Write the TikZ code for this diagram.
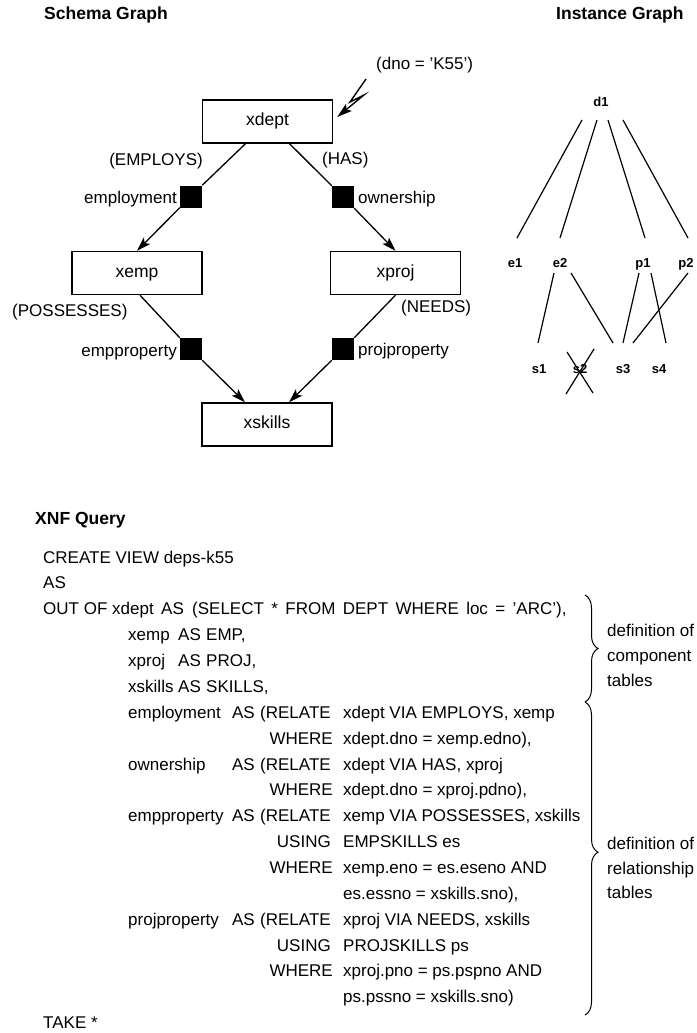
\documentclass[tikz,border=0pt]{standalone}
\usepackage{fontspec}
\setmainfont{Liberation Sans}
\usetikzlibrary{arrows.meta,decorations.pathreplacing,calc}
\begin{document}
\begin{tikzpicture}[x=1pt,y=-1pt,
  txt/.style={inner sep=0, font=\fontsize{17}{20}\selectfont},
  lbl/.style={txt, anchor=base west},
  lble/.style={txt, anchor=base east},
  ttl/.style={inner sep=0, anchor=base west, font=\fontsize{17.5}{20}\selectfont\bfseries},
  tbox/.style={draw, line width=1.4pt, minimum width=130pt, minimum height=43pt, inner sep=0, text height=12pt, text depth=3.5pt, font=\fontsize{17.5}{20}\selectfont},
  sq/.style={fill=black, minimum size=22pt, inner sep=0},
  conn/.style={line width=1.3pt},
  arr/.style={conn, -{Stealth[length=14pt,width=9pt,inset=3pt]}},
  inst/.style={inner sep=0, anchor=base, font=\fontsize{13}{15}\selectfont\bfseries},
  iline/.style={line width=1.2pt},
  brc/.style={decorate, line width=1pt},
]
\fill[white] (0,0) rectangle (696,1033);
\path[use as bounding box] (0,0) rectangle (696,1033);
\clip (0,0) rectangle (696,1033);

% ---------- titles ----------
\node[ttl] (tSchema) at (44,20) {Schema Graph};
\node[ttl] (tInst) at (556,20) {Instance Graph};
\node[ttl] (tXNF) at (35,524) {XNF Query};

% ---------- schema graph ----------
\node[tbox] (xdept) at (267.5,121.5) {xdept};
\node[tbox] (xemp) at (137,273) {xemp};
\node[tbox] (xproj) at (395.5,273) {xproj};
\node[tbox] (xskills) at (267,424.5) {xskills};

\node[sq] (sqEmp) at (191,196.5) {};
\node[sq] (sqOwn) at (343,197) {};
\node[sq] (sqEP) at (191,349) {};
\node[sq] (sqPP) at (343,349) {};

\node[lble] (lEmploys) at (203,165) {(EMPLOYS)};
\node[lble] (lEmployment) at (177,203) {employment};
\node[lbl] (lHas) at (322,164) {(HAS)};
\node[lbl] (lOwnership) at (358,203) {ownership};
\node[lbl] (lPossesses) at (12,316) {(POSSESSES)};
\node[lble] (lEmpprop) at (177,356) {empproperty};
\node[lbl] (lNeeds) at (401,312) {(NEEDS)};
\node[lbl] (lProjprop) at (358,355) {projproperty};
\node[lbl] (lDno) at (376,70) {(dno = 'K55')};

\draw[conn] ([xshift=-22pt]xdept.south) -- (sqEmp.north east);
\draw[arr] (sqEmp.south west) -- (xemp.north);
\draw[conn] ([xshift=22pt]xdept.south) -- (sqOwn.north west);
\draw[arr] (sqOwn.south east) -- (xproj.north);
\draw[conn] ([xshift=3pt]xemp.south) -- (sqEP.north west);
\draw[arr] (sqEP.south east) -- ([xshift=-22pt]xskills.north);
\draw[conn] (xproj.south) -- (sqPP.north east);
\draw[arr] (sqPP.south west) -- ([xshift=22pt]xskills.north);

% lightning arrow
\coordinate (lt0) at (366,79);
\coordinate (lt1) at (350,102);
\coordinate (lt2) at (364,95);
\draw[conn, line width=1.4pt, line join=miter, -{Stealth[length=15pt,width=9pt,inset=3pt]}] (lt0) -- (lt1) -- (lt2) -- ([shift={(4,-4.5)}]xdept.east);

% ---------- instance graph ----------
\node[inst] (d1) at (601,106) {d1};
\node[inst] (e1) at (515,267) {e1};
\node[inst] (e2) at (560,267) {e2};
\node[inst] (p1) at (643,267) {p1};
\node[inst] (p2) at (686,267) {p2};
\node[inst] (s1) at (539,373) {s1};
\node[inst] (s2) at (580,373) {s2};
\node[inst] (s3) at (623,373) {s3};
\node[inst] (s4) at (659,373) {s4};

\draw[iline] ([shift={(-19,14)}]d1.base) -- ([shift={(2,-29)}]e1.base);
\draw[iline] ([shift={(-4,14)}]d1.base) -- ([shift={(0,-29)}]e2.base);
\draw[iline] ([shift={(7,14)}]d1.base) -- ([shift={(2,-29)}]p1.base);
\draw[iline] ([shift={(22,14)}]d1.base) -- ([shift={(2,-29)}]p2.base);
\draw[iline] ([shift={(-6,6)}]e2.base) -- ([shift={(-1,-30)}]s1.base);
\draw[iline] ([shift={(11,6)}]e2.base) -- ([shift={(-10,-30)}]s3.base);
\draw[iline] ([shift={(-4,6)}]p1.base) -- ([shift={(0,-30)}]s3.base);
\draw[iline] ([shift={(8,6)}]p1.base) -- ([shift={(7,-30)}]s4.base);
\draw[iline] ([shift={(2,6)}]p2.base) -- ([shift={(10,-30)}]s3.base);
\draw[iline] ([shift={(-13,-21)}]s2.base) -- ([shift={(13,20)}]s2.base);
\draw[iline] ([shift={(14,-24)}]s2.base) -- ([shift={(-14,21)}]s2.base);

% ---------- XNF query ----------
\node[lbl] (c1) at (43,563.0) {CREATE VIEW deps-k55};
\node[lbl] (c2) at (43,588.9) {AS};
\node[lbl] (c3a) at (43,614.7) {OUT OF};
\node[lbl] (c3b) at (112,614.7) {xdept};
\node[lbl] (c3c) at (161,614.7) {AS};
\node[lbl] (c3d) at (192,614.7) {\spaceskip=7.4pt\relax (SELECT * FROM DEPT WHERE loc = 'ARC'),};

\node[lbl] (c4a) at (128,640.6) {xemp};
\node[lbl] (c4b) at (178,640.6) {AS};
\node[lbl] (c4c) at (206,640.6) {EMP,};
\node[lbl] (c5a) at (128,666.5) {xproj};
\node[lbl] (c5b) at (178,666.5) {AS};
\node[lbl] (c5c) at (206,666.5) {PROJ,};
\node[lbl] (c6a) at (128,692.4) {xskills};
\node[lbl] (c6b) at (178,692.4) {AS};
\node[lbl] (c6c) at (206,692.4) {SKILLS,};

\node[lbl] (c7a) at (128,718.2) {employment};
\node[lble] (c7b) at (255,718.2) {AS};
\node[lbl] (c7c) at (260,718.2) {(RELATE};
\node[lbl] (c7d) at (343,718.2) {xdept VIA EMPLOYS, xemp};
\node[lble] (c8a) at (333,744.1) {WHERE};
\node[lbl] (c8b) at (343,744.1) {xdept.dno = xemp.edno),};

\node[lbl] (c9a) at (128,770.0) {ownership};
\node[lble] (c9b) at (255,770.0) {AS};
\node[lbl] (c9c) at (260,770.0) {(RELATE};
\node[lbl] (c9d) at (343,770.0) {xdept VIA HAS, xproj};
\node[lble] (c10a) at (333,795.8) {WHERE};
\node[lbl] (c10b) at (343,795.8) {xdept.dno = xproj.pdno),};

\node[lbl] (c11a) at (128,821.7) {empproperty};
\node[lble] (c11b) at (255,821.7) {AS};
\node[lbl] (c11c) at (260,821.7) {(RELATE};
\node[lbl] (c11d) at (343,821.7) {xemp VIA POSSESSES, xskills};
\node[lble] (c12a) at (331,847.6) {USING};
\node[lbl] (c12b) at (343,847.6) {EMPSKILLS es};
\node[lble] (c13a) at (333,873.4) {WHERE};
\node[lbl] (c13b) at (343,873.4) {xemp.eno = es.eseno AND};
\node[lbl] (c14b) at (343,899.3) {es.essno = xskills.sno),};

\node[lbl] (c15a) at (128,925.2) {projproperty};
\node[lble] (c15b) at (255,925.2) {AS};
\node[lbl] (c15c) at (260,925.2) {(RELATE};
\node[lbl] (c15d) at (343,925.2) {xproj VIA NEEDS, xskills};
\node[lble] (c16a) at (331,951.1) {USING};
\node[lbl] (c16b) at (343,951.1) {PROJSKILLS ps};
\node[lble] (c17a) at (333,976.9) {WHERE};
\node[lbl] (c17b) at (343,976.9) {xproj.pno = ps.pspno AND};
\node[lbl] (c18b) at (343,1002.8) {ps.pssno = xskills.sno)};

\node[lbl] (c19) at (43,1028.7) {TAKE *};

% ---------- braces ----------
\coordinate (b1t) at (585,595);
\coordinate (b1b) at (585,702);
\coordinate (b2t) at (585,702);
\coordinate (b2b) at (585,1015);
\draw[brc, decoration={brace, amplitude=13pt, aspect=0.5}] (b1t) -- (b1b);
\draw[brc, decoration={brace, amplitude=13pt, aspect=0.48}] (b2t) -- (b2b);

\node[lbl] (r1a) at (607,636) {definition of};
\node[lbl] (r1b) at (607,661) {component};
\node[lbl] (r1c) at (607,686) {tables};
\node[lbl] (r2a) at (607,849) {definition of};
\node[lbl] (r2b) at (607,874) {relationship};
\node[lbl] (r2c) at (607,898) {tables};
\end{tikzpicture}
\end{document}
